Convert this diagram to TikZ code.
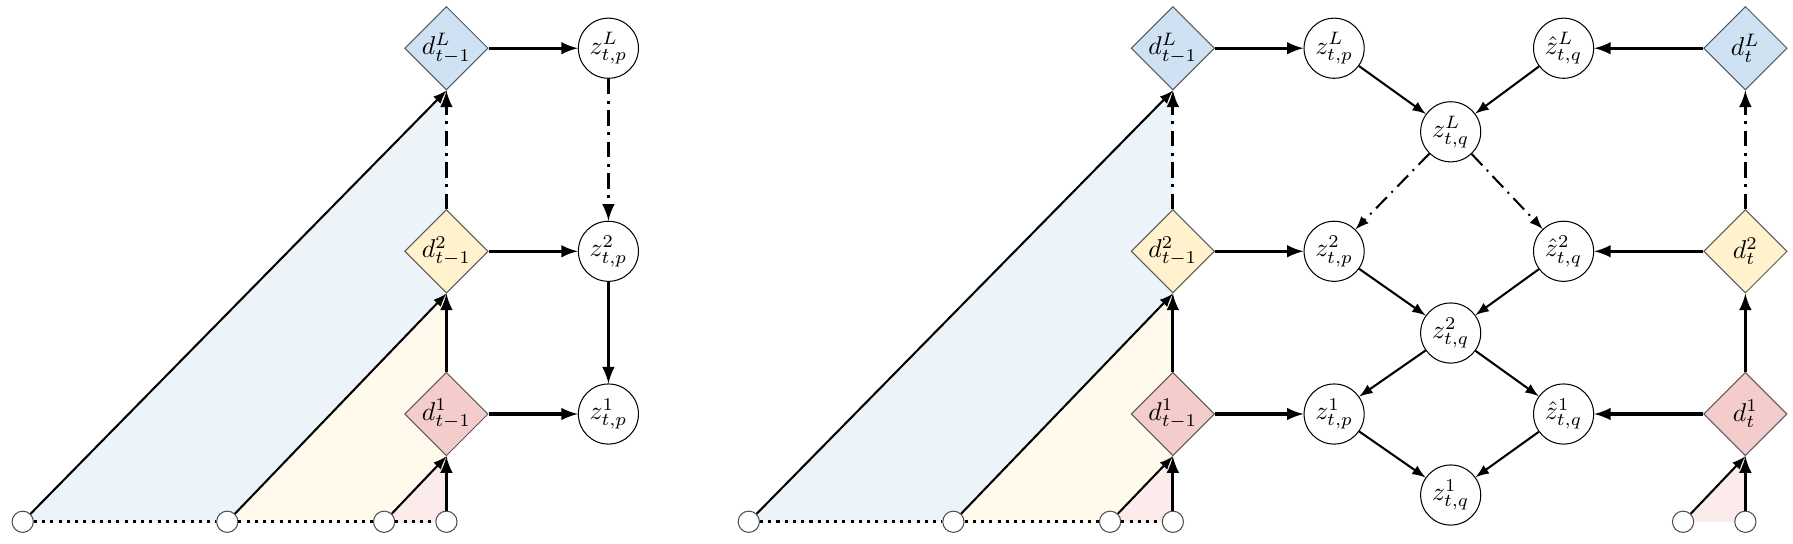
\documentclass[tikz,border=0pt]{standalone}
\usepackage{amsmath}
\usepackage{tikz}
\usetikzlibrary{positioning,shapes,arrows,backgrounds}
\definecolor{dblue}{HTML}{CFE2F3}
\definecolor{dyellow}{HTML}{FFF2CC}
\definecolor{dred}{HTML}{F4CCCC}
\tikzset{
        >=latex, % filled arrow heads
        dnode/.style={diamond, draw=black!65, inner sep=0pt, minimum size=1.14cm}, % the d nodes
        znode/.style={circle, draw, fill=white, inner sep=1pt, minimum size=0.82cm}, % the z nodes
        snode/.style={circle, draw=black!70, fill=white, inner sep=0pt, minimum size=0.29cm}, % small inputs
        link/.style={->, thick},
        spine/.style={->, very thick},
        dashdot/.style={dash pattern=on 6pt off 2.5pt on \pgflinewidth off 2.5pt},
}

\begin{document}
\begin{tikzpicture}
\useasboundingbox (0,0) rectangle (24.46,7.408);
% left picture
\node[dnode, fill=dblue] (dL) at (6.09,6.75) {$d^L_{t-1}$};
\node[dnode, fill=dyellow] (d2) at (6.09,3.98) {$d^2_{t-1}$};
\node[dnode, fill=dred] (d1) at (6.09,1.76) {$d^1_{t-1}$};
\node[znode] (zL) at (8.30,6.75) {$z^L_{t,p}$};
\node[znode] (z2) at (8.30,3.98) {$z^2_{t,p}$};
\node[znode] (z1) at (8.30,1.76) {$z^1_{t,p}$};
\node[snode] (c1) at (0.31,0.29) {};
\node[snode] (c2) at (3.10,0.29) {};
\node[snode] (c3) at (5.24,0.29) {};
\node[snode] (c4) at (6.09,0.29) {};
\draw[link] (c1) -- (dL.south);
\draw[link] (c2) -- (d2.south);
\draw[link] (c3) -- (d1.south);
\draw[spine] (c4) -- (d1.south);
\draw[spine] (d1) -- (d2);
\draw[spine, dashdot] (d2) -- (dL);
\draw[very thick, dotted] (c1) -- (c2) -- (c3) -- (c4);
\draw[spine] (dL) -- (zL);
\draw[spine] (d2) -- (z2);
\draw[spine] (d1) -- (z1);
\draw[spine, dashdot] (zL) -- (z2);
\draw[spine] (z2) -- (z1);
% right picture
\node[dnode, fill=dblue] (rdL) at (16.00,6.75) {$d^L_{t-1}$};
\node[dnode, fill=dyellow] (rd2) at (16.00,3.98) {$d^2_{t-1}$};
\node[dnode, fill=dred] (rd1) at (16.00,1.76) {$d^1_{t-1}$};
\node[znode] (rpL) at (18.20,6.75) {$z^L_{t,p}$};
\node[znode] (rp2) at (18.20,3.98) {$z^2_{t,p}$};
\node[znode] (rp1) at (18.20,1.76) {$z^1_{t,p}$};
\node[znode] (rqL) at (19.79,5.61) {$z^L_{t,q}$};
\node[znode] (rq2) at (19.79,2.865) {$z^2_{t,q}$};
\node[znode] (rq1) at (19.79,0.655) {$z^1_{t,q}$};
\node[znode] (rhL) at (21.33,6.75) {$\hat{z}^L_{t,q}$};
\node[znode] (rh2) at (21.33,3.98) {$\hat{z}^2_{t,q}$};
\node[znode] (rh1) at (21.33,1.76) {$\hat{z}^1_{t,q}$};
\node[dnode, fill=dblue] (tL) at (23.81,6.75) {$d^L_{t}$};
\node[dnode, fill=dyellow] (t2) at (23.81,3.98) {$d^2_{t}$};
\node[dnode, fill=dred] (t1) at (23.81,1.76) {$d^1_{t}$};
\node[snode] (rc1) at (10.215,0.29) {};
\node[snode] (rc2) at (13.006,0.29) {};
\node[snode] (rc3) at (15.144,0.29) {};
\node[snode] (rc4) at (16.00,0.29) {};
\node[snode] (rc5) at (22.96,0.29) {};
\node[snode] (rc6) at (23.81,0.29) {};
\draw[link] (rc1) -- (rdL.south);
\draw[link] (rc2) -- (rd2.south);
\draw[link] (rc3) -- (rd1.south);
\draw[spine] (rc4) -- (rd1.south);
\draw[spine] (rd1) -- (rd2);
\draw[spine, dashdot] (rd2) -- (rdL);
\draw[very thick, dotted] (rc1) -- (rc2) -- (rc3) -- (rc4);
\draw[spine] (rdL) -- (rpL);
\draw[spine] (rd2) -- (rp2);
\draw[spine] (rd1) -- (rp1);
\draw[spine] (tL) -- (rhL);
\draw[spine] (t2) -- (rh2);
\draw[spine] (t1) -- (rh1);
\draw[link] (rpL) -- (rqL);
\draw[link] (rhL) -- (rqL);
\draw[link, dashdot] (rqL) -- (rp2);
\draw[link, dashdot] (rqL) -- (rh2);
\draw[link] (rp2) -- (rq2);
\draw[link] (rh2) -- (rq2);
\draw[link] (rq2) -- (rp1);
\draw[link] (rq2) -- (rh1);
\draw[link] (rp1) -- (rq1);
\draw[link] (rh1) -- (rq1);
\draw[link] (rc5) -- (t1.south);
\draw[spine] (rc6) -- (t1.south);
\draw[spine] (t1) -- (t2);
\draw[spine, dashdot] (t2) -- (tL);
% shaded areas
\begin{scope}[on background layer]
\fill[dblue!40] (c1.center) -- (dL.south) -- (d2.south) -- (c2.center) -- cycle;
\fill[dyellow!40] (c2.center) -- (d2.south) -- (d1.south) -- (c3.center) -- cycle;
\fill[dred!40] (c3.center) -- (d1.south) -- (c4.center) -- cycle;
\fill[dblue!40] (rc1.center) -- (rdL.south) -- (rd2.south) -- (rc2.center) -- cycle;
\fill[dyellow!40] (rc2.center) -- (rd2.south) -- (rd1.south) -- (rc3.center) -- cycle;
\fill[dred!40] (rc3.center) -- (rd1.south) -- (rc4.center) -- cycle;
\fill[dred!40] (rc5.center) -- (t1.south) -- (rc6.center) -- cycle;
\end{scope}
\end{tikzpicture}
\end{document}
